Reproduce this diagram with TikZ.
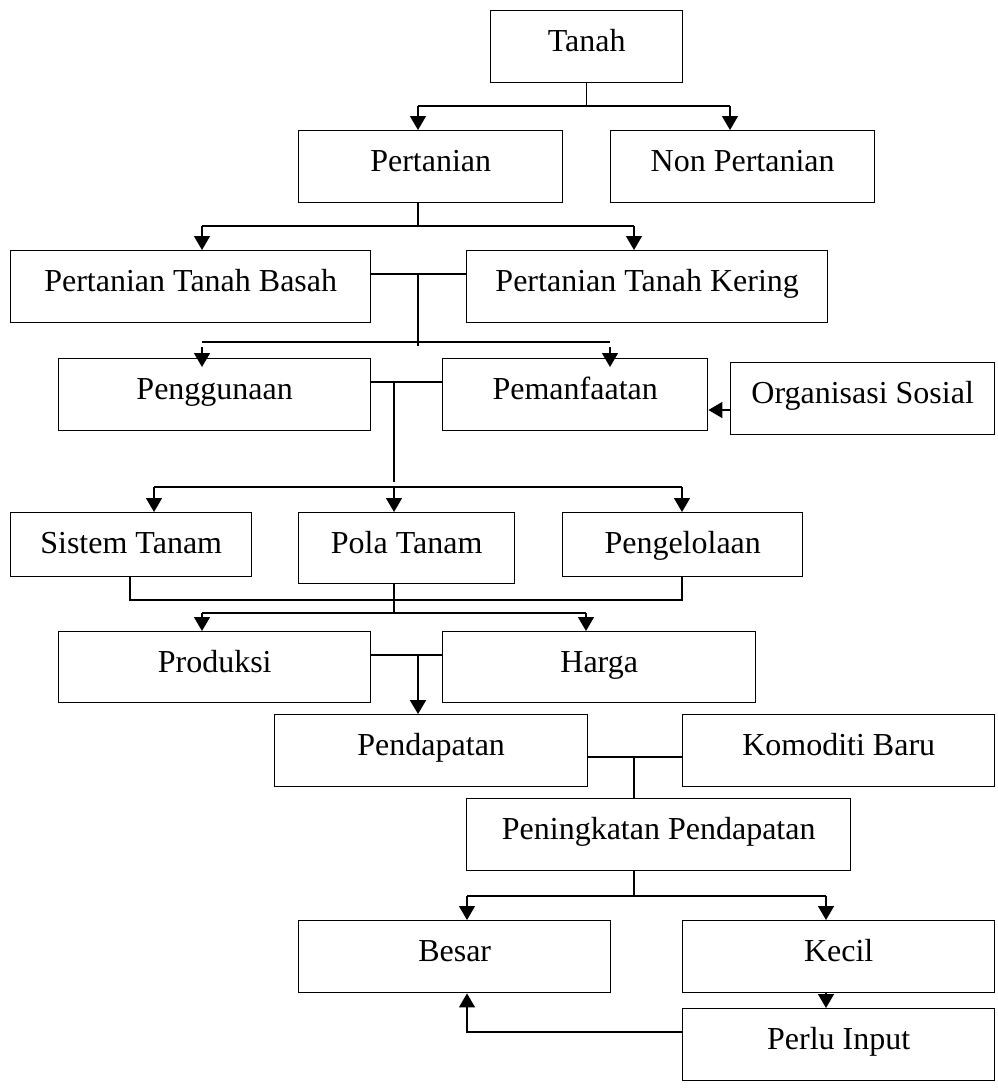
\documentclass[tikz,border=0pt]{standalone}
\usepackage{fontspec}
\setmainfont{Liberation Serif}
\usetikzlibrary{arrows.meta}
\begin{document}
\begin{tikzpicture}[x=1pt,y=-1pt,
  box/.style={draw, line width=1.4pt, inner sep=0pt, text height=41pt, text depth=31pt,
    anchor=north west, font=\fontsize{32}{38}\selectfont},
  short/.style={text depth=23pt},
  mid/.style={text depth=30pt},
  ln/.style={line width=1.4pt},
  arr/.style={line width=1.4pt, -{Triangle[length=14pt,width=16pt]}},
  tarr/.style={line width=2.4pt, -{Triangle[length=14pt,width=16pt]}}]
\useasboundingbox (0,0) rectangle (997,1088);

% boxes
\node[box, minimum width=192pt] (tanah) at (490,10) {Tanah};
\node[box, minimum width=264pt] (pert) at (298,130) {Pertanian};
\node[box, minimum width=264pt] (nonpert) at (610,130) {Non Pertanian};
\node[box, minimum width=360pt] (ptb) at (10,250) {Pertanian Tanah Basah};
\node[box, minimum width=361pt] (ptk) at (466,250) {Pertanian Tanah Kering};
\node[box, minimum width=312pt] (peng) at (58,358) {Penggunaan};
\node[box, minimum width=265pt] (pem) at (442,358) {Pemanfaatan};
\node[box, minimum width=264pt] (org) at (730,362) {Organisasi Sosial};
\node[box, short, minimum width=241pt] (sis) at (10,512) {Sistem Tanam};
\node[box, mid, minimum width=216pt] (pola) at (298,512) {Pola Tanam};
\node[box, short, minimum width=240pt] (pengel) at (562,512) {Pengelolaan};
\node[box, mid, minimum width=312pt] (prod) at (58,631) {Produksi};
\node[box, mid, minimum width=313pt] (harga) at (442,631) {Harga};
\node[box, minimum width=313pt] (pend) at (274,714) {Pendapatan};
\node[box, minimum width=312pt] (kom) at (682,714) {Komoditi Baru};
\node[box, minimum width=384pt] (ping) at (466,798) {Peningkatan Pendapatan};
\node[box, minimum width=312pt] (besar) at (298,920) {Besar};
\node[box, minimum width=312pt] (kecil) at (682,920) {Kecil};
\node[box, minimum width=312pt] (perlu) at (682,1008) {Perlu Input};

% Tanah -> Pertanian / Non Pertanian
\coordinate (t1) at (418,106);
\coordinate (t2) at (730,106);
\draw[ln] (tanah.south) -- (tanah.south |- t1);
\draw[ln] (t1) -- (t2);
\draw[arr] (t1) -- (t1 |- pert.north);
\draw[arr] (t2) -- (t2 |- nonpert.north);

% Pertanian -> Basah / Kering
\coordinate (p0) at (418,226);
\coordinate (p1) at (202,226);
\coordinate (p2) at (634,226);
\draw[ln] (p0 |- pert.south) -- (p0);
\draw[ln] (p1) -- (p2);
\draw[arr] (p1) -- (p1 |- ptb.north);
\draw[arr] (p2) -- (p2 |- ptk.north);

% Basah/Kering -> Penggunaan / Pemanfaatan
\coordinate (b0) at (418,274);
\coordinate (b1) at (418,346);
\coordinate (b2) at (202,342);
\coordinate (b3) at (610,342);
\coordinate (b4) at (202,347);
\coordinate (b5) at (610,347);
\draw[ln] (b0 -| ptb.east) -- (b0 -| ptk.west);
\draw[ln] (b0) -- (b1);
\draw[ln] (b2) -- (b3);
\draw[arr, shorten >=-9pt] (b4) -- (b4 |- peng.north);
\draw[arr, shorten >=-9pt] (b5) -- (b5 |- pem.north);

% Organisasi Sosial -> Pemanfaatan
\coordinate (o1) at (730,410);
\draw[arr] (o1 -| org.west) -- (o1 -| pem.east);

% Penggunaan/Pemanfaatan -> Sistem / Pola / Pengelolaan
\coordinate (c0) at (394,382);
\coordinate (c1) at (394,482);
\coordinate (c2) at (154,487);
\coordinate (c3) at (394,487);
\coordinate (c4) at (682,487);
\draw[ln] (c0 -| peng.east) -- (c0 -| pem.west);
\draw[ln] (c0) -- (c1);
\draw[ln] (c2) -- (c4);
\draw[arr] (c2) -- (c2 |- sis.north);
\draw[arr] (c3) -- (c3 |- pola.north);
\draw[arr] (c4) -- (c4 |- pengel.north);

% Sistem/Pola/Pengelolaan -> Produksi / Harga
\coordinate (d1) at (130,600);
\coordinate (d2) at (682,600);
\coordinate (d3) at (394,613);
\coordinate (d4) at (202,613);
\coordinate (d5) at (586,613);
\draw[ln] (d1 |- sis.south) -- (d1) -- (d2) -- (d2 |- pengel.south);
\draw[ln] (d3 |- pola.south) -- (d3);
\draw[ln] (d4) -- (d5);
\draw[arr] (d4) -- (d4 |- prod.north);
\draw[arr] (d5) -- (d5 |- harga.north);

% Produksi/Harga -> Pendapatan
\coordinate (e0) at (418,655);
\draw[ln] (e0 -| prod.east) -- (e0 -| harga.west);
\draw[tarr] (e0) -- (e0 |- pend.north);

% Pendapatan/Komoditi -> Peningkatan
\coordinate (f0) at (634,757);
\draw[ln] (f0 -| pend.east) -- (f0 -| kom.west);
\draw[ln] (f0) -- (f0 |- ping.north);

% Peningkatan -> Besar / Kecil
\coordinate (f1) at (634,896);
\coordinate (f2) at (467,896);
\coordinate (f3) at (826,896);
\draw[ln] (f1 |- ping.south) -- (f1);
\draw[ln] (f2) -- (f3);
\draw[arr] (f2) -- (f2 |- besar.north);
\draw[arr] (f3) -- (f3 |- kecil.north);

% Kecil -> Perlu Input -> Besar
\draw[arr] (f3 |- kecil.south) -- (f3 |- perlu.north);
\coordinate (g0) at (467,1032);
\draw[arr] (g0 -| perlu.west) -- (g0) -- (g0 |- besar.south);
\end{tikzpicture}
\end{document}
